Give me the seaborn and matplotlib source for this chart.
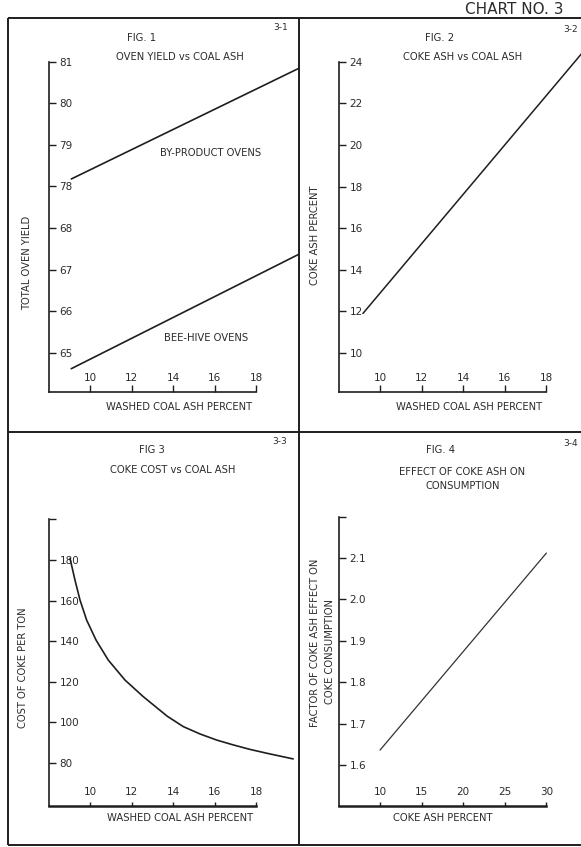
import numpy as np
import pandas as pd
import seaborn as sns
import matplotlib
matplotlib.use("Agg")
import matplotlib.pyplot as plt

# fig 1 - oven yield vs washed coal ash (two straight lines)
f1_x = [9.1, 20.0]
f1_byproduct = [78.18, 80.83]
f1_beehive = [64.62, 67.36]
f1_ticks = [65, 66, 67, 68, 78, 79, 80, 81]

# fig 2 - coke ash vs coal ash
f2_x = [9.18, 19.7]
f2_y = [11.9, 24.4]
f2_ticks = [10, 12, 14, 16, 18, 20, 22, 24]

# fig 3 - coke cost vs coal ash
f3_x = [9.04, 9.28, 9.52, 9.84, 10.29, 10.88, 11.68, 12.56, 13.72,
        14.49, 15.29, 16.09, 16.89, 17.69, 18.5, 19.77]
f3_y = [180.8, 170.1, 160.3, 150.4, 140.6, 130.7, 120.9, 112.7, 103.0,
        97.9, 94.3, 91.3, 88.9, 86.7, 84.8, 82.0]
f3_ticks = [80, 100, 120, 140, 160, 180, 200]

# fig 4 - effect of coke ash on consumption
f4_x = [10, 30]
f4_y = [1.636, 2.112]
f4_ticks = [1.6, 1.7, 1.8, 1.9, 2.0, 2.1, 2.2]

washed_ticks = [10, 12, 14, 16, 18]
coke_ash_ticks = [10, 15, 20, 25, 30]

W, H = 581, 847
INK = "#1e1e1e"
TXT = "#2b2b2b"

sns.set_style("ticks")
plt.rcParams["font.family"] = ["DejaVu Sans"]

fig = plt.figure(figsize=(W / 100, H / 100), dpi=100)
fig.patch.set_facecolor("white")

# overlay in pixel coords for frame and lettering
ov = fig.add_axes([0, 0, 1, 1])
ov.set_xlim(0, W)
ov.set_ylim(H, 0)
ov.axis("off")
for xs, ys in [([8, W], [18, 18]), ([8, 8], [18, 845]), ([8, W], [845, 845]),
               ([299, 299], [18, 845]), ([8, W], [432, 432])]:
    ov.plot(xs, ys, color=INK, lw=1.4, solid_capstyle="butt")


def put(x, y, s, size=7.2, rot=0):
    ov.text(x, y, s, ha="center", va="center", fontsize=size, color=TXT, rotation=rot)


put(514, 9, "CHART NO. 3", size=11)
put(281, 28, "3-1", 6.5)
put(142, 38, "FIG. 1")
put(180, 57, "OVEN YIELD vs COAL ASH")
put(27, 263, "TOTAL OVEN YIELD", rot=90)
put(211, 153, "BY-PRODUCT OVENS")
put(206, 338, "BEE-HIVE OVENS")
put(179, 407, "WASHED COAL ASH PERCENT")
put(571, 29, "3-2", 6.5)
put(440, 38, "FIG. 2")
put(463, 57, "COKE ASH vs COAL ASH")
put(315, 235, "COKE ASH PERCENT", rot=90)
put(469, 407, "WASHED COAL ASH PERCENT")
put(280, 442, "3-3", 6.5)
put(152, 450, "FIG 3")
put(173, 470, "COKE COST vs COAL ASH")
put(23, 668, "COST OF COKE PER TON", rot=90)
put(180, 818, "WASHED COAL ASH PERCENT")
put(571, 443, "3-4", 6.5)
put(440, 450, "FIG. 4")
put(462, 472, "EFFECT OF COKE ASH ON")
put(463, 486, "CONSUMPTION")
put(315, 643, "FACTOR OF COKE ASH EFFECT ON", rot=90)
put(330, 651, "COKE CONSUMPTION", rot=90)
put(443, 818, "COKE ASH PERCENT")


def make_ax(x0, x1, y0, y1, xlim, ylim):
    ax = fig.add_axes([x0 / W, 1 - y1 / H, (x1 - x0) / W, (y1 - y0) / H])
    ax.set_facecolor("none")
    ax.set_xlim(*xlim)
    ax.set_ylim(*ylim)
    sns.despine(ax=ax)
    for side in ("left", "bottom"):
        ax.spines[side].set_color(INK)
        ax.spines[side].set_linewidth(1.2)
    ax.tick_params(axis="both", direction="in", length=5, width=1, color=INK,
                   labelsize=7.5, labelcolor=TXT, left=True, bottom=True)
    ax.tick_params(axis="y", pad=-7.5)
    ax.tick_params(axis="x", pad=-6.5)
    return ax


def finish(ax, xt, yt, ylabels, xb, yb):
    ax.set_xticks(xt)
    ax.set_xticklabels([str(v) for v in xt])
    ax.set_yticks(yt)
    ax.set_yticklabels(ylabels)
    for lab in ax.get_yticklabels():
        lab.set_ha("left")
    for lab in ax.get_xticklabels():
        lab.set_va("bottom")
    ax.spines["bottom"].set_bounds(*xb)
    ax.spines["left"].set_bounds(*yb)
    ax.set_xlabel("")
    ax.set_ylabel("")


def brk(v):
    # broken axis: 65..68 then 78..81
    return v - 65 if v < 70 else v - 74


# fig 1
ax1 = make_ax(49, 299, 18, 392, (8.03, 20.05), (-0.94, 8.05))
pos_ticks = [brk(v) for v in f1_ticks]
sns.lineplot(x=f1_x, y=[brk(v) for v in f1_byproduct], ax=ax1, color=INK, lw=1.2)
sns.lineplot(x=f1_x, y=[brk(v) for v in f1_beehive], ax=ax1, color=INK, lw=1.2)
finish(ax1, washed_ticks, pos_ticks, [str(v) for v in f1_ticks], (8.03, 18), (-0.94, 7))

# fig 2
ax2 = make_ax(339, 581, 18, 392, (8.03, 19.66), (8.125, 26.1))
sns.lineplot(x=f2_x, y=f2_y, ax=ax2, color=INK, lw=1.1)
finish(ax2, washed_ticks, f2_ticks, [str(v) for v in f2_ticks], (8.03, 18), (8.125, 24))

# fig 3
ax3 = make_ax(49, 299, 433, 806, (8.03, 20.05), (58.8, 242.6))
df3 = pd.DataFrame({"ash": f3_x, "cost": f3_y})
sns.lineplot(data=df3, x="ash", y="cost", ax=ax3, color=INK, lw=1.2)
finish(ax3, washed_ticks, f3_ticks, [str(v) for v in f3_ticks[:-1]] + [""], (8.03, 18), (58.8, 200))
ax3.spines["bottom"].set_linewidth(1.8)
ax3.tick_params(axis="x", length=3)

# fig 4
ax4 = make_ax(339, 581, 433, 806, (5.07, 34.16), (1.501, 2.402))
sns.lineplot(x=f4_x, y=f4_y, ax=ax4, color="#333333", lw=0.9)
finish(ax4, coke_ash_ticks, f4_ticks,
       ["1.6", "1.7", "1.8", "1.9", "2.0", "2.1", ""], (5.07, 30), (1.501, 2.2))
ax4.spines["bottom"].set_linewidth(1.8)
ax4.tick_params(axis="x", length=3)

fig.savefig("out.png", dpi=100, facecolor="white")
